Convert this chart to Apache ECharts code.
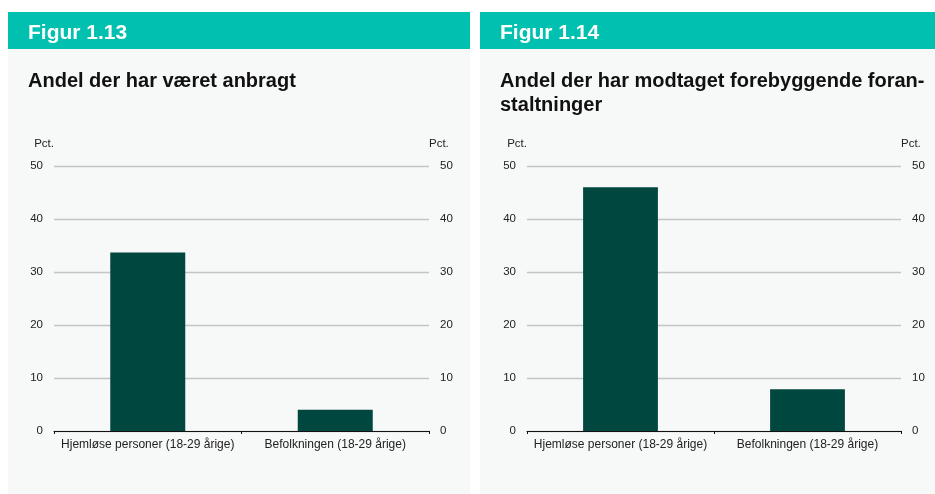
<!DOCTYPE html>
<html>
<head>
<meta charset="utf-8">
<script src="https://cdn.jsdelivr.net/npm/echarts@6/dist/echarts.min.js"></script>
<style>
  html, body { margin: 0; padding: 0; background: #ffffff; }
  #main { width: 935px; height: 494px; }
</style>
</head>
<body>
<div id="main"></div>
<script type="text/javascript">
    // data
    var categories = ['Hjemløse personer (18-29 årige)', 'Befolkningen (18-29 årige)'];
    var anbragtValues = [33.7, 4.0];
    var forebyggendeValues = [46.0, 7.9];
    var yTicks = [0, 10, 20, 30, 40, 50];

    var font = 'Liberation Sans, Arial, Helvetica, sans-serif';
    var barColor = '#00483f';
    var teal = '#00c0b0';
    var panelBg = '#f7f8f8';

    function makeY(gridIndex, position, showGrid) {
        return {
            type: 'value',
            gridIndex: gridIndex,
            position: position,
            min: yTicks[0],
            max: yTicks[yTicks.length - 1],
            interval: 10,
            name: 'Pct.',
            nameLocation: 'end',
            nameGap: 22,
            nameTextStyle: {
                color: '#222', fontSize: 11.5, fontFamily: font,
                align: position === 'left' ? 'right' : 'left',
                verticalAlign: 'middle'
            },
            axisLine: { show: false },
            axisTick: { show: false },
            axisLabel: { color: '#222', fontSize: 11.5, fontFamily: font, margin: 11 },
            splitLine: { show: showGrid, lineStyle: { color: '#c4c4c4', width: 1.3 } }
        };
    }

    function makeX(gridIndex) {
        return {
            type: 'category',
            gridIndex: gridIndex,
            data: categories,
            axisLine: { lineStyle: { color: '#111', width: 1 } },
            axisTick: { show: true, length: 3, interval: 0, lineStyle: { color: '#111' } },
            axisLabel: { color: '#222', fontSize: 12, fontFamily: font, margin: 8, interval: 0 }
        };
    }

    var myChart = echarts.init(document.getElementById('main'), null, { renderer: 'canvas' });

    var option = {
        backgroundColor: '#ffffff',
        animation: false,
        graphic: [
            { type: 'rect', shape: { x: 8, y: 12, width: 462, height: 482 }, style: { fill: panelBg }, z: -10 },
            { type: 'rect', shape: { x: 8, y: 12, width: 462, height: 37 }, style: { fill: teal }, z: -9 },
            { type: 'rect', shape: { x: 480, y: 12, width: 455, height: 482 }, style: { fill: panelBg }, z: -10 },
            { type: 'rect', shape: { x: 480, y: 12, width: 455, height: 37 }, style: { fill: teal }, z: -9 }
        ],
        title: [
            { text: 'Figur 1.13', left: 23, top: 18,
              textStyle: { color: '#ffffff', fontSize: 21, fontWeight: 'bold', fontFamily: font } },
            { text: 'Figur 1.14', left: 495, top: 18,
              textStyle: { color: '#ffffff', fontSize: 21, fontWeight: 'bold', fontFamily: font } },
            { text: 'Andel der har været anbragt', left: 23, top: 66,
              textStyle: { color: '#111', fontSize: 20, fontWeight: 'bold', fontFamily: font } },
            { text: 'Andel der har modtaget forebyggende foran-\nstaltninger', left: 495, top: 64,
              textStyle: { color: '#111', fontSize: 20, fontWeight: 'bold', fontFamily: font, lineHeight: 24 } }
        ],
        grid: [
            { left: 54, right: 506, top: 166, bottom: 63 },
            { left: 527, right: 34, top: 166, bottom: 63 }
        ],
        xAxis: [makeX(0), makeX(1)],
        yAxis: [
            makeY(0, 'left', true), makeY(0, 'right', false),
            makeY(1, 'left', true), makeY(1, 'right', false)
        ],
        series: [
            { type: 'bar', xAxisIndex: 0, yAxisIndex: 0, data: anbragtValues,
              barWidth: '40%', itemStyle: { color: barColor } },
            { type: 'bar', xAxisIndex: 1, yAxisIndex: 2, data: forebyggendeValues,
              barWidth: '40%', itemStyle: { color: barColor } }
        ]
    };
    myChart.setOption(option);
</script>
</body>
</html>
